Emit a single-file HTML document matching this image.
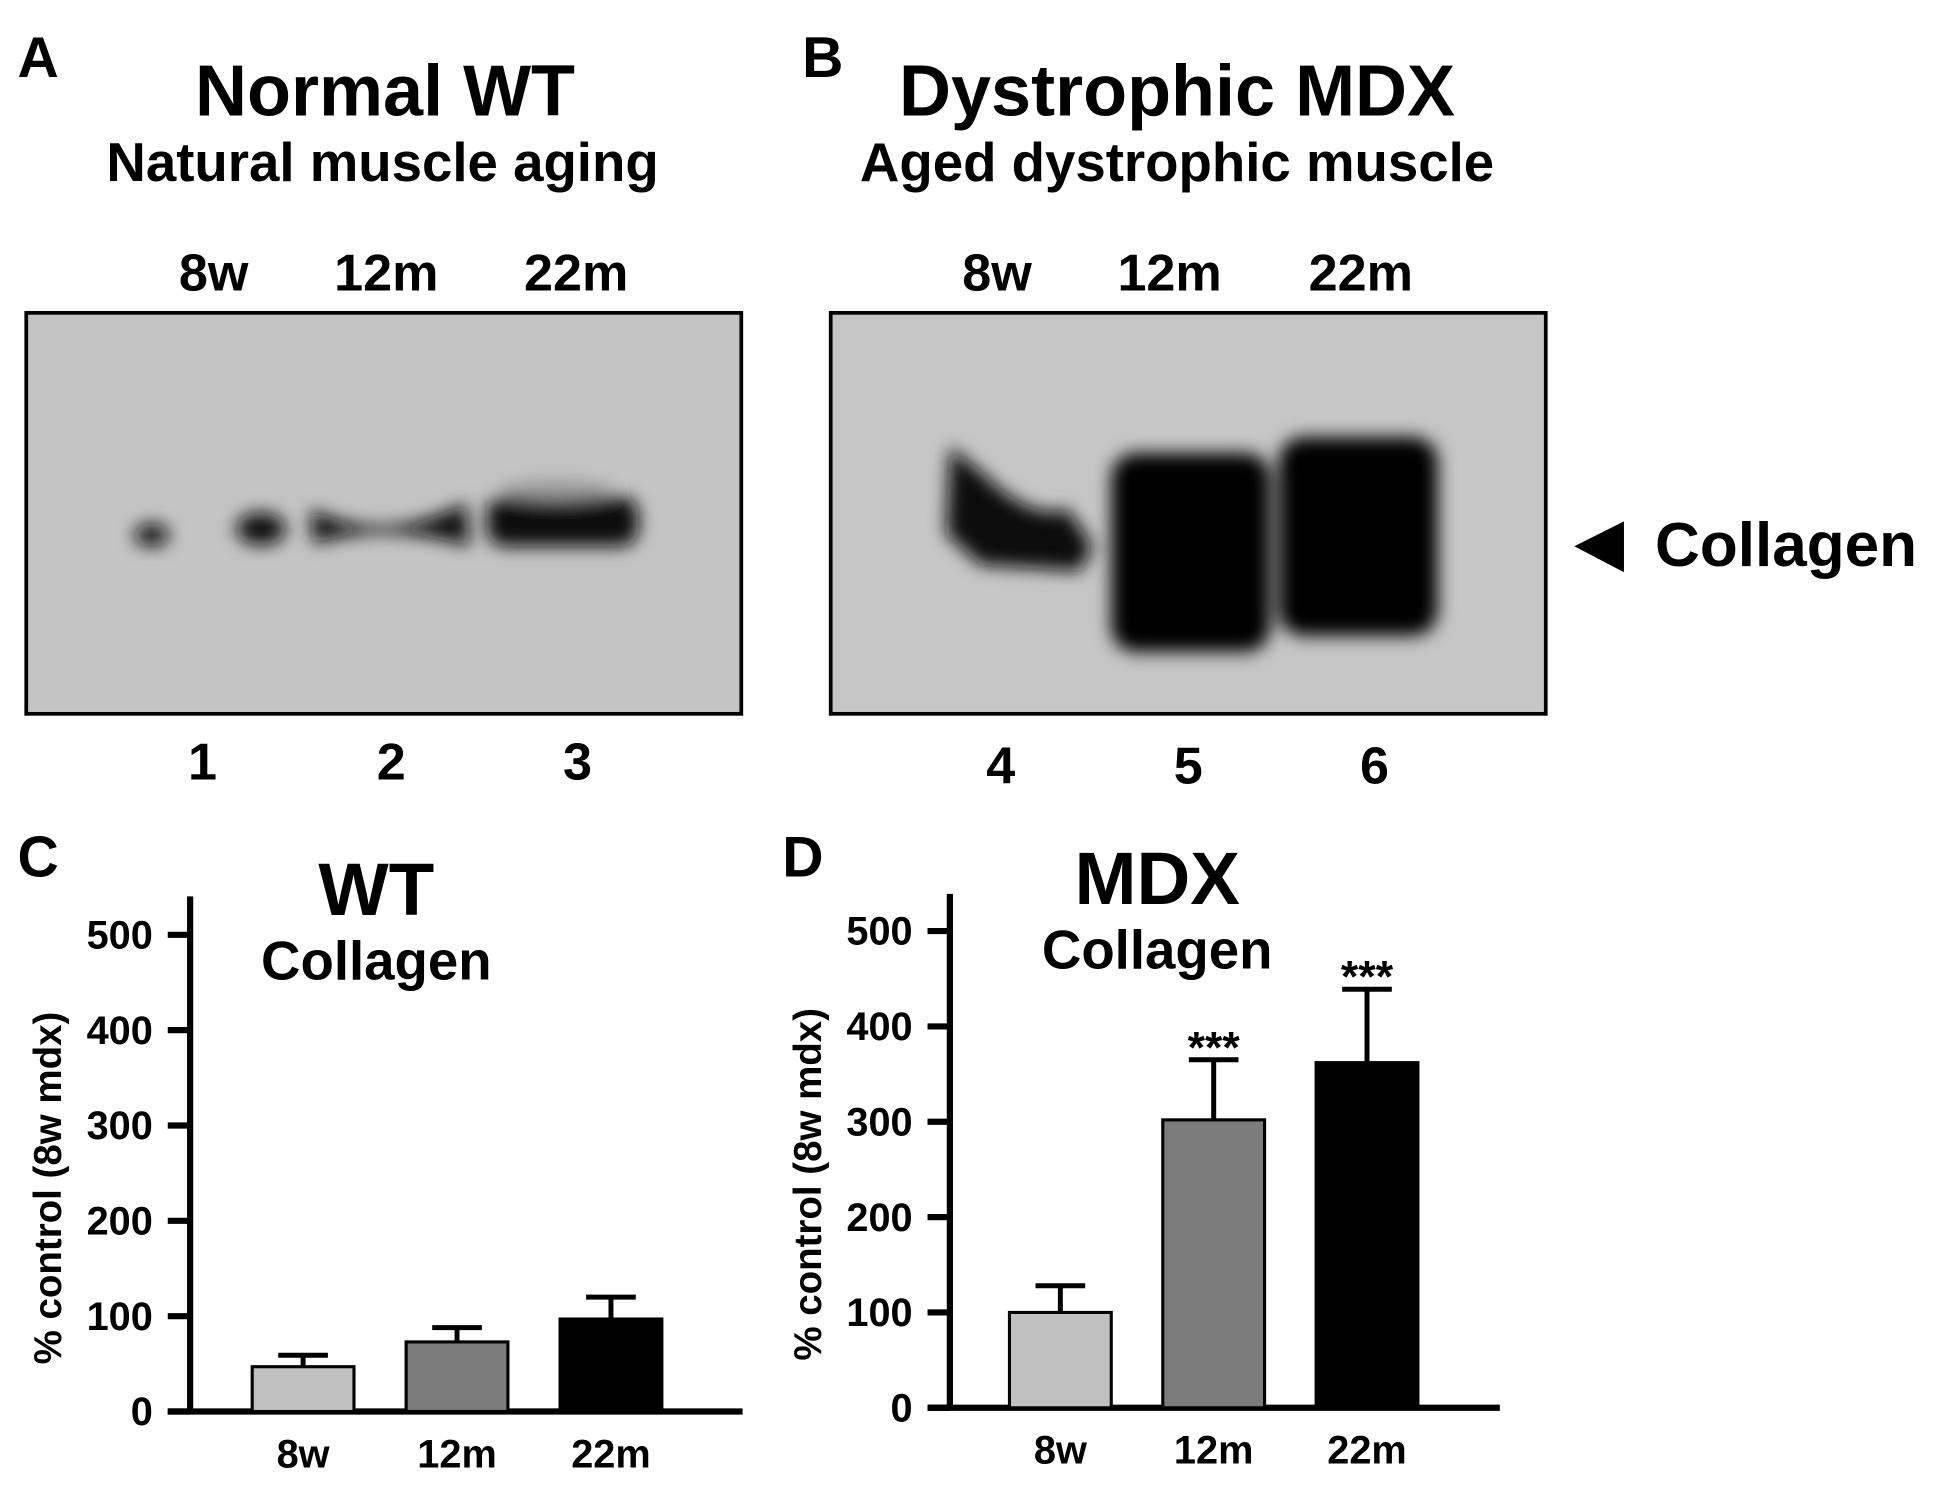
<!DOCTYPE html>
<html><head><meta charset="utf-8"><style>
html,body{margin:0;padding:0;background:#fff}
svg{display:block}
text{font-family:"Liberation Sans",sans-serif;font-weight:bold;fill:#000}
</style></head><body>
<svg id="fig" width="1937" height="1486" viewBox="0 0 1560 1197" xmlns="http://www.w3.org/2000/svg">
<defs>
<filter id="blur" x="-50%" y="-50%" width="200%" height="200%"><feGaussianBlur stdDeviation="7"/></filter>
</defs>
<g>
<text x="14" y="62" font-size="46">A</text>
<text x="310" y="93" font-size="58" text-anchor="middle">Normal WT</text>
<text x="308" y="146" font-size="44" text-anchor="middle">Natural muscle aging</text>
<text x="172" y="234" font-size="42" text-anchor="middle">8w</text>
<text x="311" y="234" font-size="42" text-anchor="middle">12m</text>
<text x="464" y="234" font-size="42" text-anchor="middle">22m</text>
<rect x="21" y="252" width="576" height="323" fill="#c4c4c4" stroke="#000" stroke-width="3"/>
<g filter="url(#blur)">
<ellipse cx="122" cy="431" rx="14" ry="9" fill="#111"/>
<ellipse cx="210" cy="426" rx="20" ry="13" fill="#111"/>
<path d="M250 410 Q310 440 375 405 L378 440 Q310 420 252 438Z" fill="#111"/>
<rect x="392" y="400" width="122" height="40" rx="14" fill="#080808"/>
<ellipse cx="448" cy="395" rx="45" ry="8" fill="#999"/>
</g>
<text x="163" y="628" font-size="42" text-anchor="middle">1</text>
<text x="315" y="628" font-size="42" text-anchor="middle">2</text>
<text x="465" y="628" font-size="42" text-anchor="middle">3</text>
</g>
<g>
<text x="646" y="62" font-size="46">B</text>
<text x="948" y="93" font-size="58" text-anchor="middle">Dystrophic MDX</text>
<text x="948" y="146" font-size="44" text-anchor="middle">Aged dystrophic muscle</text>
<text x="803" y="234" font-size="42" text-anchor="middle">8w</text>
<text x="942" y="234" font-size="42" text-anchor="middle">12m</text>
<text x="1096" y="234" font-size="42" text-anchor="middle">22m</text>
<rect x="669" y="252" width="576" height="323" fill="#c6c6c6" stroke="#000" stroke-width="3"/>
<g filter="url(#blur)">
<path d="M765 360 L790 380 Q830 420 860 410 L880 440 L870 460 L790 455 L762 430Z" fill="#0a0a0a"/>
<rect x="895" y="365" width="128" height="160" rx="20" fill="#050505"/>
<rect x="1030" y="352" width="128" height="160" rx="20" fill="#050505"/>
</g>
<text x="806" y="631" font-size="42" text-anchor="middle">4</text>
<text x="957" y="631" font-size="42" text-anchor="middle">5</text>
<text x="1107" y="631" font-size="42" text-anchor="middle">6</text>
<polygon points="1268,440 1308,420 1308,461" fill="#000"/>
<text x="1333" y="456" font-size="50">Collagen</text>
</g>
<g id="chartC"></g>
<g id="chartD"></g>
</svg>
<script>
const categories = ["8w", "12m", "22m"];
const wtValues = [47, 73, 97];
const wtErrors = [12, 15, 23];
const mdxValues = [100, 302, 362];
const mdxErrors = [28, 63, 77];
const mdxStars = ["", "***", "***"];
const yTicks = [0, 100, 200, 300, 400, 500];
const barFills = ["#c0c0c0", "#7c7c7c", "#000000"];
const NS = "http://www.w3.org/2000/svg";
function mk(tag, attrs, parent, txt){const e=document.createElementNS(NS,tag);for(const k in attrs)e.setAttribute(k,attrs[k]);if(txt!==undefined)e.textContent=txt;parent.appendChild(e);return e;}
function drawChart(g, cfg, values, errors, stars){
  const y = v => cfg.y0 - v*(cfg.y0-cfg.y500)/500;
  const x = i => cfg.bx0 + i*cfg.step;
  let t;
  t=mk("text",{x:cfg.lx,y:cfg.ly,"font-size":46},g,cfg.letter);
  
  
  t=mk("text",{x:cfg.tx,y:cfg.ty,"font-size":60,"text-anchor":"middle"},g,cfg.title);
  
  
  t=mk("text",{x:cfg.tx,y:cfg.ty+52,"font-size":44,"text-anchor":"middle"},g,"Collagen");
  
  
  let l=mk("line",{x1:cfg.ax,y1:cfg.atop,x2:cfg.ax,y2:cfg.y0+2,stroke:"#000","stroke-width":5},g);
  
  
  l=mk("line",{x1:cfg.ax-18,y1:cfg.y0,x2:cfg.xend,y2:cfg.y0,stroke:"#000","stroke-width":5},g);
  
  
  yTicks.forEach(v=>{
    const tk=mk("line",{x1:cfg.ax-18,y1:y(v),x2:cfg.ax,y2:y(v),stroke:"#000","stroke-width":5},g);
    
    
    const tl=mk("text",{x:cfg.ax-30,y:y(v)+11,"font-size":32,"text-anchor":"end"},g,String(v));
    
    
  });
  t=mk("text",{x:0,y:0,"font-size":31,"text-anchor":"middle",transform:`translate(${cfg.ax-104},${(cfg.y0+cfg.y500)/2+12}) rotate(-90)`},g,"% control (8w mdx)");
  
  
  categories.forEach((c,i)=>{
    const bx=x(i), w=cfg.bw, cx=bx+w/2, top=y(values[i]), et=y(values[i]+errors[i]);
    const el=mk("line",{x1:cx,y1:top,x2:cx,y2:et,stroke:"#000","stroke-width":4},g);
    
    
    const ec=mk("line",{x1:cx-20,y1:et,x2:cx+20,y2:et,stroke:"#000","stroke-width":4},g);
    
    
    const r=mk("rect",{x:bx,y:top,width:w,height:cfg.y0-top,fill:barFills[i],stroke:"#000","stroke-width":2.5},g);
    
    
    const xl=mk("text",{x:cx,y:cfg.y0+45,"font-size":32,"text-anchor":"middle"},g,c);
    
    
    if(stars && stars[i]){
      const s=mk("text",{x:cx,y:et+2,"font-size":36,"text-anchor":"middle"},g,stars[i]);
      
      
    }
  });
}
drawChart(document.getElementById("chartC"),
 {letter:"C",lx:14,ly:706,title:"WT",tx:303,ty:737,ax:153,atop:722,y0:1137,y500:753,xend:598,bx0:203,step:124,bw:82},
 wtValues, wtErrors, null);
drawChart(document.getElementById("chartD"),
 {letter:"D",lx:630,ly:706,title:"MDX",tx:932,ty:728,ax:765,atop:720,y0:1134,y500:750,xend:1208,bx0:813,step:123.5,bw:82},
 mdxValues, mdxErrors, mdxStars);
</script>
</body></html>
